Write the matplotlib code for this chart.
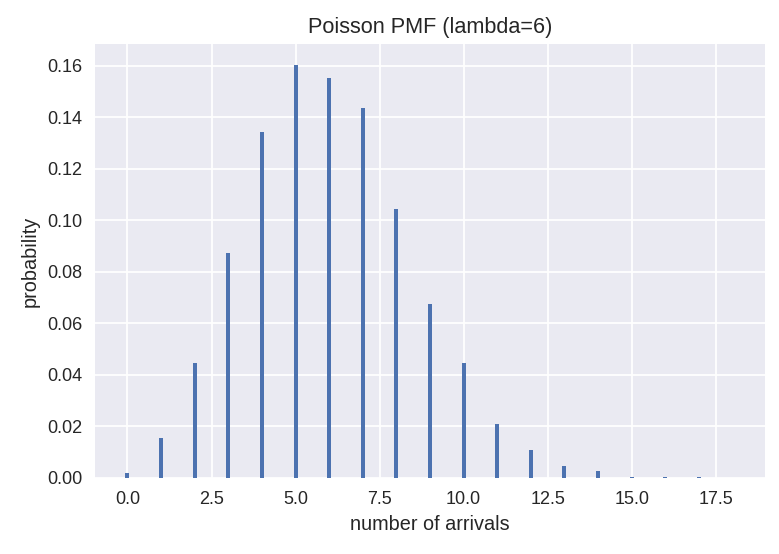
import matplotlib
matplotlib.use("Agg")
import matplotlib.pyplot as plt
import numpy as np

# observed relative frequencies for k = 0..18
arrivals = np.arange(19)
probability = [0.0021, 0.0156, 0.0446, 0.0872, 0.1341, 0.1604, 0.1554, 0.1434,
               0.1043, 0.0675, 0.0446, 0.0210, 0.0110, 0.0048, 0.0028, 0.0005,
               0.0002, 0.0002, 0.0]

plt.style.use("seaborn-v0_8")

fig = plt.figure(figsize=(7.79 / 1.3, 5.54 / 1.3), dpi=130)
ax = fig.add_axes([95 / 779, 1 - 478 / 554, 670 / 779, 434 / 554])
ax.bar(arrivals, probability, width=0.12, color="#4C72B0")
ax.set_title("Poisson PMF (lambda=6)")
ax.set_xlabel("number of arrivals")
ax.set_ylabel("probability")

fig.savefig("out.png", dpi=130)
